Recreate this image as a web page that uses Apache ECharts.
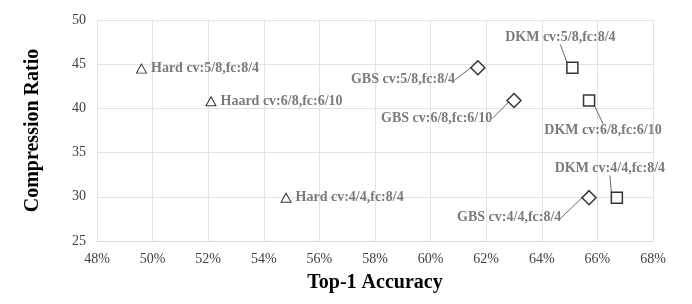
<!DOCTYPE html>
<html><head><meta charset="utf-8">
<script src="https://cdn.jsdelivr.net/npm/echarts@6/dist/echarts.min.js"></script>
<style>html,body{margin:0;padding:0;background:#fff}#c{width:692px;height:304px}</style>
</head><body><div id="c"></div>
<script>
// Top-1 accuracy (%) and compression ratio
const hardLabels = ['Hard cv:5/8,fc:8/4', 'Haard cv:6/8,fc:6/10', 'Hard cv:4/4,fc:8/4'];
const hardAcc = [49.6, 52.1, 54.8];
const hardCR = [44.5, 40.8, 29.9];

const gbsLabels = ['GBS cv:5/8,fc:8/4', 'GBS cv:6/8,fc:6/10', 'GBS cv:4/4,fc:8/4'];
const gbsAcc = [61.7, 63.0, 65.7];
const gbsCR = [44.6, 40.9, 29.9];

const dkmLabels = ['DKM cv:5/8,fc:8/4', 'DKM cv:6/8,fc:6/10', 'DKM cv:4/4,fc:8/4'];
const dkmAcc = [65.1, 65.7, 66.7];
const dkmCR = [44.6, 40.9, 29.9];

const xTicks = [48, 68, 2];
const yTicks = [25, 50, 5];

const FONT = '"Liberation Serif","Times New Roman",serif';
const labelStyle = {show: true, fontFamily: FONT, fontWeight: 'bold', fontSize: 14, color: '#595959'};
const pts = (a, b, l) => a.map((v, i) => ({value: [v, b[i]], name: l[i]}));

const gbsMove = [[-10, 12], [-9, 18], [-15, 20]];
const dkmMove = [[-12, -12], [14, 12], [-7, -11]];
const dkmPos = ['top', 'bottom', 'top'];

const chart = echarts.init(document.getElementById('c'), null, {renderer: 'canvas'});
chart.setOption({
  animation: false,
  grid: {left: 97, right: 39, top: 20, bottom: 63},
  xAxis: {
    type: 'value', min: xTicks[0], max: xTicks[1], interval: xTicks[2],
    name: 'Top-1 Accuracy', nameLocation: 'middle', nameGap: 32,
    nameTextStyle: {fontFamily: FONT, fontWeight: 'bold', fontSize: 20, color: '#000'},
    axisLine: {show: true, lineStyle: {color: '#d9d9d9'}},
    axisTick: {show: false},
    axisLabel: {formatter: v => v + '%', fontFamily: FONT, fontSize: 14, color: '#404040', margin: 11},
    splitLine: {show: true, lineStyle: {color: '#e3e3e3'}}
  },
  yAxis: {
    type: 'value', min: yTicks[0], max: yTicks[1], interval: yTicks[2],
    name: 'Compression Ratio', nameLocation: 'middle', nameGap: 54,
    nameTextStyle: {fontFamily: FONT, fontWeight: 'bold', fontSize: 20, color: '#000'},
    axisLine: {show: false},
    axisTick: {show: false},
    axisLabel: {fontFamily: FONT, fontSize: 14, color: '#404040', margin: 11},
    splitLine: {show: true, lineStyle: {color: '#e3e3e3'}}
  },
  series: [
    {
      type: 'scatter', name: 'Hard', data: pts(hardAcc, hardCR, hardLabels),
      symbol: 'triangle', symbolSize: [10, 9],
      itemStyle: {color: '#fff', borderColor: '#000', borderWidth: 1},
      label: Object.assign({}, labelStyle, {position: 'right', distance: 4, formatter: '{b}'})
    },
    {
      type: 'scatter', name: 'GBS', data: pts(gbsAcc, gbsCR, gbsLabels),
      symbol: 'diamond', symbolSize: 14,
      itemStyle: {color: '#fff', borderColor: '#000', borderWidth: 1.5},
      label: Object.assign({}, labelStyle, {position: 'left', distance: 5, formatter: '{b}'}),
      labelLayout: p => ({dx: gbsMove[p.dataIndex][0], dy: gbsMove[p.dataIndex][1]}),
      labelLine: {show: true, length2: 0, lineStyle: {color: '#404040', width: 0.8}}
    },
    {
      type: 'scatter', name: 'DKM', data: pts(dkmAcc, dkmCR, dkmLabels).map((d, i) => Object.assign(d, {label: {position: dkmPos[i]}})),
      symbol: 'rect', symbolSize: 11,
      itemStyle: {color: '#fff', borderColor: '#000', borderWidth: 1.5},
      label: Object.assign({}, labelStyle, {distance: 5, formatter: '{b}'}),
      labelLayout: p => ({dx: dkmMove[p.dataIndex][0], dy: dkmMove[p.dataIndex][1]}),
      labelLine: {show: true, length2: 0, lineStyle: {color: '#404040', width: 0.8}}
    }
  ]
});
</script></body></html>
